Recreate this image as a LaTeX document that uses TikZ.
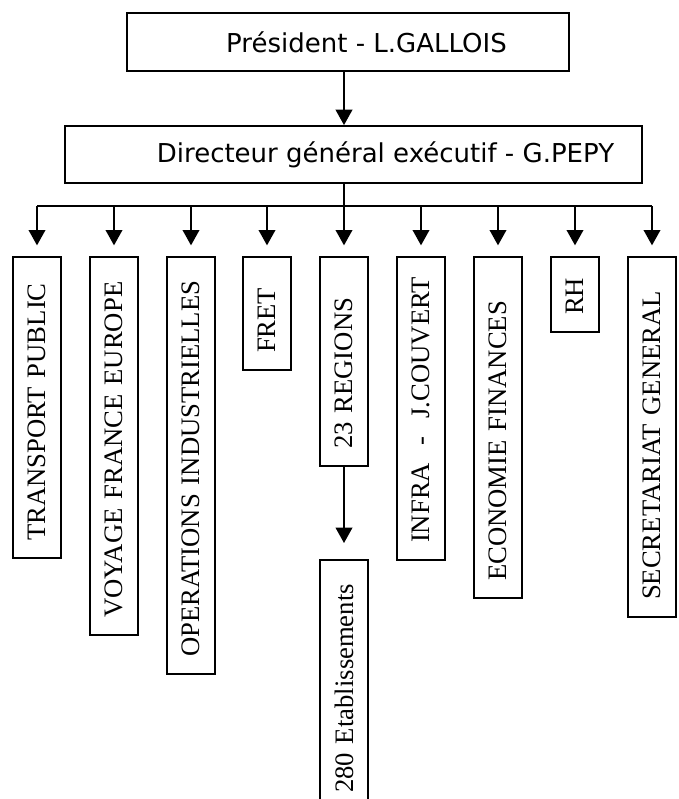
\documentclass[tikz,border=0pt]{standalone}
\usepackage{fontspec}
\setmainfont{Liberation Serif}
\newfontfamily\comicfont{DejaVu Sans}
\usetikzlibrary{arrows.meta}

\tikzset{
  topbox/.style={draw, line width=1.4pt, inner sep=0pt, font=\comicfont\fontsize{19.5}{23}\selectfont},
  vbox/.style={draw, line width=1.4pt, rotate=90, anchor=east, minimum height=36pt,
    inner xsep=0pt, align=left, execute at begin node={\hspace*{12.75pt}},
    font=\fontsize{20}{24}\selectfont},
  arr/.style={line width=1.2pt, -{Triangle[width=12.5pt,length=11.5pt]}}
}

\begin{document}
\begin{tikzpicture}[x=0.75pt,y=0.75pt,yscale=-1,xscale=1]
\useasboundingbox (0,0) rectangle (678,799);

% Top boxes
\node[topbox, minimum width=331.5pt, minimum height=43.5pt] (pres) at (348,42) {\hspace*{27.75pt}Président - L.GALLOIS};
\node[topbox, minimum width=432.75pt, minimum height=42.75pt] (dir) at (353.5,154.5) {\hspace*{48pt}Directeur général exécutif - G.PEPY};

% Departments
\node[vbox, text width=225.75pt] (tp) at (37,256) {TRANSPORT PUBLIC};
\node[vbox, text width=283.5pt] (vfe) at (114,256) {VOYAGE FRANCE EUROPE};
\node[vbox, text width=312.75pt] (oi) at (191,256) {OPERATIONS INDUSTRIELLES};
\node[vbox, text width=84.75pt] (fret) at (267,256) {FRET};
\node[vbox, text width=156.75pt] (reg) at (344,256) {23 REGIONS};
\node[vbox, text width=227.25pt] (infra) at (421,256) {INFRA\ \ -\ \ J.COUVERT};
\node[vbox, text width=255.75pt] (eco) at (498,256) {ECONOMIE FINANCES};
\node[vbox, text width=56.25pt] (rh) at (575,256) {RH};
\node[vbox, text width=270pt] (sg) at (652,256) {SECRETARIAT GENERAL};
\node[vbox, text width=187.5pt] (etab) at (344,559) {280 Etablissements};

% Connectors
\coordinate (bar) at (0,206);
\draw[arr] (pres.south -| reg.east) -- (dir.north -| reg.east);
\draw[line width=1.2pt] (dir.south -| reg.east) -- (bar -| reg.east);
\draw[line width=1.2pt] (bar -| tp.east) -- (bar -| sg.east);
\foreach \b in {tp,vfe,oi,fret,reg,infra,eco,rh,sg}
  \draw[arr, shorten >=8pt] (bar -| \b.east) -- (\b.east);
\draw[arr, shorten >=12pt] (reg.west) -- (etab.east);

\end{tikzpicture}
\end{document}
